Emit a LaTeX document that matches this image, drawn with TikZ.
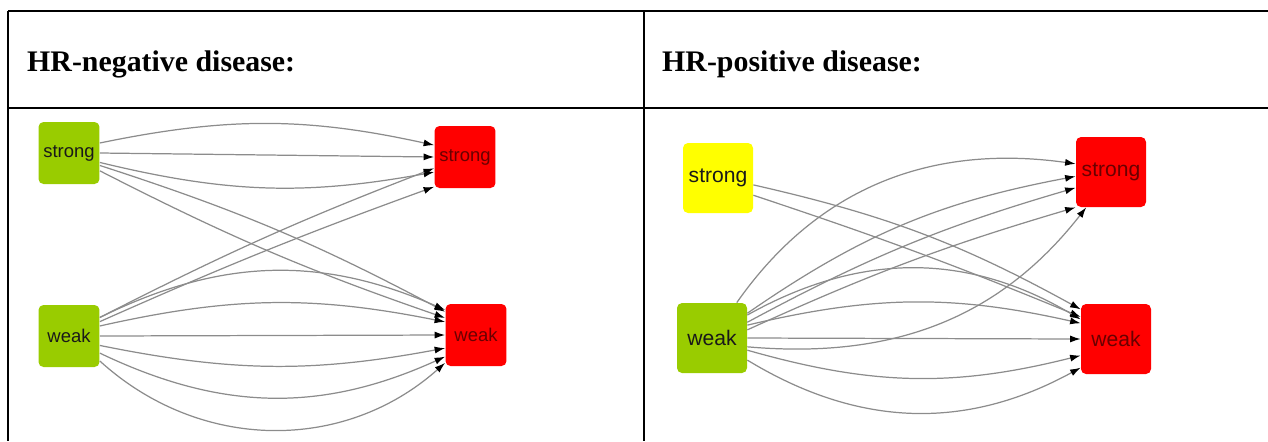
\documentclass[tikz,border=0pt]{standalone}
\usepackage{fontspec}
\setmainfont{Liberation Serif}
\setsansfont{Liberation Sans}
\usepackage{xcolor}
\usepackage{tikz}
\usetikzlibrary{arrows.meta,positioning}
\definecolor{gradegreen}{RGB}{153,204,0}
\definecolor{gradered}{RGB}{255,0,0}
\definecolor{gradeyellow}{RGB}{255,255,0}
\definecolor{labelred}{RGB}{105,0,0}

\begin{document}
\begin{tikzpicture}[
        x=0.02cm, y=0.02cm,
        every node/.style={font=\sffamily},
        grade/.style={rounded corners=0.1cm, inner sep=0pt},
        small/.style={grade, minimum width=1.22cm, minimum height=1.24cm, font=\sffamily\fontsize{10.5}{12}\selectfont},
        big/.style={grade, minimum width=1.4cm, minimum height=1.4cm, font=\sffamily\fontsize{12}{14}\selectfont},
        heading/.style={anchor=base west, font=\rmfamily\bfseries\fontsize{17}{20}\selectfont},
        link/.style={draw=black!45, line width=0.7pt, -{Latex[length=6pt,width=4pt,color=black]}},
        rule/.style={line width=0.9pt},
    ]
        \useasboundingbox (0,0) rectangle (1268,-441);

        \draw[rule] (8,-11) -- (1268,-11);
        \draw[rule] (8,-108) -- (1268,-108);
        \draw[rule] (8,-11) -- (8,-441);
        \draw[rule] (644,-11) -- (644,-441);

        \node[heading] (hneg) at (21,-71) {HR-negative disease:};
        \node[heading] (hpos) at (656,-71) {HR-positive disease:};

        \node[small, fill=gradegreen, text=black!90] (negS) at (69,-153) {strong};
        \node[small, fill=gradegreen, text=black!90] (negW) at (69,-336) {weak};
        \node[small, fill=gradered, text=labelred] (negRS) at (465,-157) {strong};
        \node[small, fill=gradered, text=labelred] (negRW) at (476,-335) {weak};

        \node[big, fill=gradeyellow, text=black!90] (posS) at (718,-178) {strong};
        \node[big, fill=gradegreen, text=black!90] (posW) at (712,-338) {weak};
        \node[big, fill=gradered, text=labelred] (posRS) at (1111,-172) {strong};
        \node[big, fill=gradered, text=labelred] (posRW) at (1116,-339) {weak};

        \draw[link] (negS.18) to[bend left=12] (negRS.159);
        \draw[link] (negS.east) to (negRS.west);
        \draw[link] (negS.-17) to[bend right=12] (negRS.206);
        \draw[link] (negS.-22) to[bend left=5] (negRW.143);
        \draw[link] (negS.-30) to[bend right=4] (negRW.151);
        \draw[link] (negW.31) to[bend left=3] (negRS.200);
        \draw[link] (negW.25) to[bend left=2] (negRS.224);
        \draw[link] (negW.31) to[bend left=25] (negRW.141);
        \draw[link] (negW.18) to[bend left=12] (negRW.157);
        \draw[link] (negW.east) to (negRW.west);
        \draw[link] (negW.-17) to[bend right=11] (negRW.203);
        \draw[link] (negW.-29) to[bend right=25] (negRW.215);
        \draw[link] (negW.-39) to[bend right=42] (negRW.222);

        \draw[link] (posS.-11) to[bend left=8] (posRW.140);
        \draw[link] (posS.-26) to[bend left=2] (posRW.148);
        \draw[link] (posW.55) to[out=55, in=172] (posRS.167);
        \draw[link] (posW.35) to[bend left=12] (posRS.187);
        \draw[link] (posW.24) to[bend left=6] (posRS.204);
        \draw[link] (posW.13) to[bend left=4] (posRS.225);
        \draw[link] (posW.-14) to[out=-5, in=232] (posRS.235);
        \draw[link] (posW.33) to[bend left=30] (posRW.151);
        \draw[link] (posW.20) to[bend left=13] (posRW.156);
        \draw[link] (posW.east) to (posRW.west);
        \draw[link] (posW.-19) to[bend right=15] (posRW.205);
        \draw[link] (posW.-32) to[bend right=30] (posRW.219);
    \end{tikzpicture}
\end{document}
